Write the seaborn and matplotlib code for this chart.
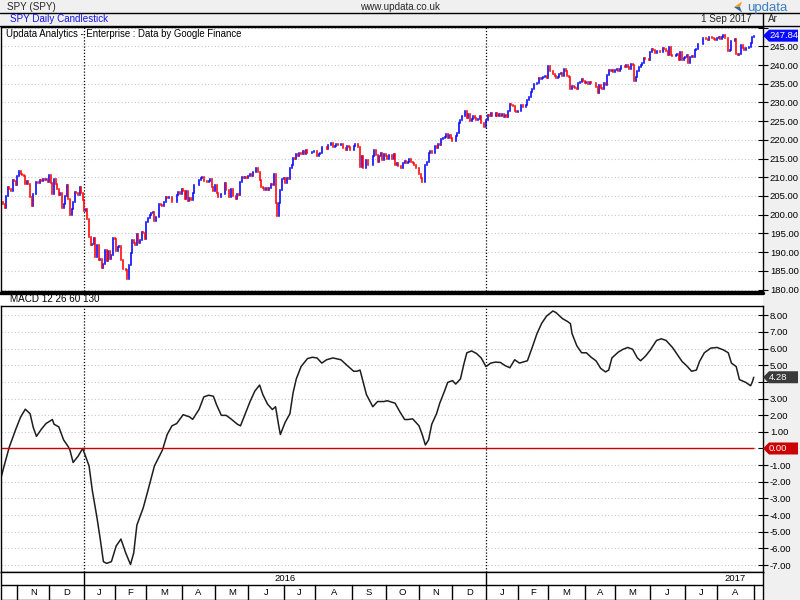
import numpy as np
import pandas as pd
import matplotlib
matplotlib.use("Agg")
import matplotlib.pyplot as plt
import seaborn as sns
from matplotlib.patches import Rectangle, Polygon
from matplotlib.lines import Line2D

sns.set_theme(style="white")
plt.rcParams["font.family"] = ["Liberation Sans", "DejaVu Sans"]

# ---------------- data ----------------
first_date = "2015-10-19"
last_date = "2017-09-01"
holidays = ["2015-11-26", "2015-12-25", "2016-01-01", "2016-01-18", "2016-02-15",
            "2016-03-25", "2016-05-30", "2016-07-04", "2016-09-05", "2016-11-24",
            "2016-12-26", "2017-01-02", "2017-01-16", "2017-02-20", "2017-04-14",
            "2017-05-29", "2017-07-04"]
prev_close = 202.8
closes = [
    # Oct 2015
    203.3, 202.9, 201.7, 204.9, 207.3, 206.9, 206.4, 209.3, 208.9, 207.9,
    # Nov 2015
    210.4, 211.6, 210.8, 210.5, 210.4, 208.3, 208.9, 208.1, 204.8, 202.4,
    205.6, 205.5, 208.7, 208.5, 209.3, 209.1, 209.4, 209.3, 209.6, 208.7,
    # Dec 2015
    210.7, 208.5, 205.6, 209.6, 208.3, 206.9, 205.3, 205.9, 201.9, 202.9, 205.0,
    208.0, 204.2, 200.0, 201.6, 203.5, 206.0, 205.7, 205.2, 207.4, 205.9, 203.9,
    # Jan 2016
    201.0, 201.4, 198.8, 194.0, 191.9, 192.1, 193.7, 188.8, 191.9, 187.8,
    188.1, 185.7, 186.7, 190.5, 187.6, 190.2, 188.1, 189.1, 193.7,
    # Feb 2016
    193.6, 190.2, 191.3, 191.6, 187.9, 185.4, 185.4, 185.3, 182.9, 186.6,
    189.8, 193.2, 192.3, 192.0, 194.8, 192.3, 193.2, 195.5, 195.1, 193.6,
    # Mar 2016
    198.1, 199.0, 199.8, 200.4, 200.6, 198.4, 199.4, 199.4, 202.8, 202.5, 202.2,
    203.3, 204.6, 204.4, 204.7, 204.7, 203.5, 203.4, 203.5, 205.3, 206.0, 205.5,
    # Apr 2016
    206.9, 206.2, 204.2, 206.4, 203.6, 204.5, 203.9, 205.9, 208.0, 208.0, 207.8,
    209.2, 209.9, 210.1, 209.0, 209.0, 208.6, 209.0, 209.4, 207.4, 206.3,
    # May 2016
    207.9, 205.9, 204.6, 204.6, 205.4, 205.5, 208.5, 206.5, 206.5, 204.8, 206.8,
    204.9, 204.9, 204.2, 205.5, 205.2, 208.6, 210.0, 209.8, 210.2, 209.8,
    # Jun 2016
    210.3, 210.9, 210.3, 211.3, 211.4, 212.4, 211.4, 209.2, 207.5, 207.1, 206.5,
    207.2, 206.5, 207.2, 208.3, 207.9, 210.8, 203.2, 199.6, 203.2, 206.7, 209.5,
    # Jul 2016
    209.9, 208.4, 209.7, 209.6, 212.6, 213.4, 215.1, 215.0, 216.2, 215.8,
    216.4, 216.2, 217.1, 216.3, 217.2, 216.6, 216.6, 216.5, 216.8, 217.1,
    # Aug 2016
    216.9, 215.6, 216.2, 216.4, 218.2, 218.1, 218.2, 217.6, 218.6, 218.5, 219.1, 218.0,
    218.4, 218.9, 218.5, 218.5, 218.9, 217.8, 217.7, 217.3, 218.4, 218.0, 217.4,
    # Sep 2016
    217.4, 218.4, 219.0, 219.0, 218.0, 212.7, 215.8, 212.5, 212.4, 214.6, 213.4,
    213.4, 213.4, 215.8, 217.2, 215.9, 214.2, 215.6, 216.6, 214.7, 216.3,
    # Oct 2016
    215.8, 215.0, 215.9, 216.0, 215.0, 216.1, 213.4, 213.7, 213.0, 213.1, 212.4,
    213.7, 214.3, 213.9, 214.0, 214.9, 214.1, 213.7, 213.2, 212.5, 212.6,
    # Nov 2016
    211.0, 209.7, 208.8, 208.6, 213.2, 214.2, 216.4, 216.9, 216.4, 216.6, 218.3,
    217.9, 219.0, 218.5, 220.2, 220.6, 220.7, 221.5, 220.5, 221.2, 220.4,
    # Dec 2016
    219.6, 219.7, 221.0, 221.7, 224.6, 225.2, 226.5, 226.3, 227.8, 225.9, 226.8,
    225.0, 225.5, 226.4, 225.8, 225.4, 225.7, 226.3, 224.4, 224.4, 223.5,
    # Jan 2017
    225.2, 226.6, 226.4, 227.2, 226.5, 226.5, 227.1, 226.5, 227.0, 226.3,
    226.8, 226.0, 226.7, 226.1, 227.6, 229.6, 229.3, 229.0, 227.6, 227.5,
    # Feb 2017
    227.6, 227.8, 229.3, 228.9, 228.9, 229.2, 230.6, 231.5, 232.8, 233.7,
    234.9, 234.8, 235.1, 236.5, 236.3, 236.4, 236.7, 237.1, 236.5,
    # Mar 2017
    239.8, 238.3, 238.4, 237.7, 237.0, 236.6, 236.9, 237.7, 237.8, 237.0, 238.9, 238.5,
    237.0, 236.8, 233.7, 234.3, 234.0, 233.9, 233.6, 235.3, 235.5, 236.3, 235.7,
    # Apr 2017
    235.3, 235.5, 234.8, 235.4, 235.2, 235.3, 235.1, 234.2, 232.5, 234.6,
    233.9, 233.5, 235.3, 234.6, 237.2, 238.6, 238.5, 238.6, 238.1,
    # May 2017
    238.7, 238.8, 238.5, 238.8, 239.7, 239.7, 239.4, 239.9, 239.4, 239.0, 240.3,
    240.1, 235.8, 236.8, 238.3, 239.5, 240.1, 240.6, 241.8, 241.7, 241.5, 241.4,
    # Jun 2017
    243.4, 244.2, 244.0, 243.2, 243.7, 243.8, 243.4, 243.4, 244.6, 244.2, 243.7,
    242.6, 244.7, 242.6, 242.5, 242.4, 242.6, 242.9, 241.3, 243.5, 241.4, 241.8,
    # Jul 2017
    242.2, 242.8, 240.6, 242.1, 242.4, 242.2, 244.0, 244.4, 245.6, 245.6,
    245.7, 247.1, 247.1, 246.9, 246.8, 247.4, 247.4, 247.2, 246.9, 246.8,
    # Aug 2017
    247.3, 247.4, 247.0, 247.4, 247.9, 247.3, 247.3, 243.8, 244.1, 246.5, 246.4, 246.9,
    242.9, 242.7, 243.0, 245.4, 244.6, 244.1, 244.6, 244.6, 244.9, 246.0, 247.5,
    # Sep 2017
    247.84,
]

# MACD line readings (trading-day index, value)
macd_day = [0, 2, 5, 9, 12, 15, 18, 20, 22, 25, 28, 32, 33, 36, 39, 42, 43, 45, 48, 51,
            55, 57, 60, 62, 64, 66, 69, 72, 75, 78, 81, 83, 85, 89, 92, 96, 101, 104, 107,
            110, 114, 118, 120, 124, 127, 130, 133, 135, 138, 141, 144, 148, 150, 153, 156,
            159, 162, 164, 167, 170, 172, 174, 175, 178, 181, 183, 185, 188, 192, 195, 198,
            201, 204, 208, 213, 217, 221, 223, 225, 227, 229, 233, 236, 240, 242, 247, 250,
            253, 255, 258, 262, 264, 266, 268, 270, 273, 275, 278, 280, 283, 285, 288, 290,
            292, 295, 298, 301, 304, 307, 310, 313, 316, 319, 322, 325, 330, 333, 336, 339,
            342, 346, 348, 352, 355, 357, 358, 361, 364, 367, 370, 373, 376, 379, 381, 383,
            387, 390, 393, 396, 399, 401, 404, 407, 411, 414, 417, 421, 424, 427, 430, 433,
            436, 438, 441, 445, 449, 453, 456, 458, 461, 463, 467, 470, 471, 472]
macd_val = [-1.67, -0.94, 0.10, 1.15, 1.88, 2.36, 2.09, 1.26, 0.73, 1.15, 1.50, 1.74, 1.46,
            1.30, 0.52, 0.10, -0.10, -0.84, -0.48, 0.00, -1.05, -2.50, -4.18, -5.44, -6.80,
            -6.90, -6.80, -5.86, -5.44, -6.28, -6.97, -6.28, -4.60, -3.56, -2.50, -1.05,
            -0.10, 0.84, 1.36, 1.50, 2.03, 1.90, 1.75, 2.35, 3.10, 3.20, 3.14, 2.62, 1.99,
            1.99, 1.78, 1.46, 1.36, 2.09, 2.82, 3.45, 3.81, 3.24, 2.66, 2.34, 2.51, 1.36,
            0.84, 1.57, 2.09, 3.35, 4.18, 4.92, 5.40, 5.48, 5.44, 5.13, 5.33, 5.44, 5.33,
            4.98, 4.64, 4.64, 4.71, 3.97, 3.24, 2.51, 2.82, 2.82, 2.87, 2.72, 2.20, 1.74,
            1.74, 1.78, 1.36, 0.84, 0.21, 0.52, 1.46, 2.09, 2.72, 3.45, 3.97, 4.08, 3.87,
            4.18, 5.02, 5.75, 5.86, 5.71, 5.44, 4.92, 5.13, 5.19, 5.17, 4.98, 4.85, 5.33,
            5.13, 5.27, 6.07, 6.90, 7.53, 7.95, 8.26, 8.16, 7.80, 7.64, 7.50, 6.90, 6.17,
            5.75, 5.75, 5.48, 5.27, 4.81, 4.60, 4.71, 5.44, 5.79, 5.96, 6.07, 5.96, 5.44,
            5.27, 5.54, 5.90, 6.49, 6.59, 6.49, 6.07, 5.65, 5.23, 4.96, 4.64, 4.71, 5.23,
            5.75, 6.03, 6.07, 5.92, 5.75, 5.13, 4.92, 4.14, 3.97, 3.77, 3.97, 4.28]

price_ticks = [180, 185, 190, 195, 200, 205, 210, 215, 220, 225, 230, 235, 240, 245, 250]
macd_ticks = [-7, -6, -5, -4, -3, -2, -1, 0, 1, 2, 3, 4, 5, 6, 7, 8]
month_letters = ["J", "F", "M", "A", "M", "J", "J", "A", "S", "O", "N", "D"]

# ---------------- derived ----------------
dates = pd.bdate_range(first_date, last_date)
dates = dates[~dates.isin(pd.to_datetime(holidays))]
assert len(dates) == len(closes), (len(dates), len(closes))
n = len(closes)
idx = np.arange(n)
c = np.array(closes)
o = np.r_[prev_close, c[:-1]]
lo = np.minimum(o, c)
hi = np.maximum(o, c)
up = c >= o

W, H = 800, 600
FS = 6.8
fig = plt.figure(figsize=(8, 6), dpi=100)
fig.patch.set_facecolor("white")


def fx(px):
    return px / W


def fy(py):
    return 1 - py / H


XL = (-0.25, 477.8)
GRAY = "#f0f0f0"

# right gray column
fig.add_artist(Rectangle((fx(763), 0), fx(800) - fx(763), fy(26), transform=fig.transFigure,
                         facecolor=GRAY, edgecolor="none", zorder=-5))

ax_p = fig.add_axes([fx(1), fy(291), fx(763) - fx(1), (291 - 26.5) / H])
ax_m = fig.add_axes([fx(1), fy(571.5), fx(763) - fx(1), (571.5 - 306) / H])
ax_d = fig.add_axes([fx(1), 0.0005, fx(763) - fx(1), 28 / H])

for ax in (ax_p, ax_m, ax_d):
    ax.set_facecolor("white")
    for s in ax.spines.values():
        s.set_color("black")
        s.set_linewidth(1)
    ax.set_xlim(*XL)

# ---- price panel ----
ax_p.vlines(idx[up], lo[up], hi[up], colors="#0000ff", lw=1.15, capstyle="projecting")
ax_p.vlines(idx[~up], lo[~up], hi[~up], colors="#ff0000", lw=1.15, capstyle="projecting")
ax_p.set_ylim(179.6, 250.29)
ax_p.set_yticks(price_ticks)
# the top label sits under the header strip and the last-price flag
ax_p.set_yticklabels(["" if abs(v - closes[-1]) < 2.5 else f"{v:.2f}" for v in price_ticks])

# ---- MACD panel ----
sns.lineplot(x=macd_day, y=macd_val, ax=ax_m, color="#1e1e1e", lw=1.1,
             estimator=None, sort=False)
ax_m.hlines(0, 0, n - 1, colors="#cc0000", lw=1)
ax_m.set_ylim(-7.39, 8.56)
ax_m.set_yticks(macd_ticks)
# labels hidden behind the value flags
ax_m.set_yticklabels(["" if (abs(v - macd_val[-1]) < 0.5 or v == 0) else f"{v:.2f}"
                      for v in macd_ticks])

for ax in (ax_p, ax_m):
    ax.set_xlabel("")
    ax.set_ylabel("")
    ax.set_xticks([])
    ax.yaxis.tick_right()
    ax.tick_params(axis="y", direction="inout", length=7, width=0.8, labelsize=FS,
                   pad=1.5, colors="black", right=True, left=False)
    ax.yaxis.grid(True, linestyle=(0, (1, 2)), color="#c8c8c8", lw=0.8)
    ax.xaxis.grid(False)
    ax.set_axisbelow(True)

# year start dotted verticals
year_starts = [i for i in range(1, n) if dates[i].year != dates[i - 1].year]
for ax in (ax_p, ax_m):
    for ys in year_starts:
        ax.axvline(ys, color="black", lw=0.9, linestyle=(0, (1, 1.5)), zorder=1)

ax_p.text(0.006, 0.99, "Updata Analytics - Enterprise : Data by Google Finance",
          transform=ax_p.transAxes, ha="left", va="top", fontsize=FS + 0.1, color="black")

# ---- date axis ----
ax_d.set_ylim(0, 28)
ax_d.set_xticks([])
ax_d.set_yticks([])
ax_d.axhline(14.5, color="black", lw=1)
month_starts = [i for i in range(1, n) if dates[i].month != dates[i - 1].month]
for ms in month_starts:
    ax_d.plot([ms, ms], [0, 14.5], color="black", lw=1)
for a, b in zip(month_starts[:-1], month_starts[1:]):
    ax_d.text((a + b) / 2, 7, month_letters[dates[a].month - 1], ha="center", va="center",
              fontsize=FS, color="black")
for ys in year_starts:
    ax_d.plot([ys, ys], [14.5, 28], color="black", lw=1)
ax_d.text((year_starts[0] + year_starts[1]) / 2, 21.2, str(dates[year_starts[0]].year),
          ha="center", va="center", fontsize=FS, color="black")
ax_d.text(n - 13, 21.2, str(dates[year_starts[1]].year), ha="center", va="center",
          fontsize=FS, color="black")

# ---- separators / strips ----
fig.add_artist(Line2D([fx(0), fx(763)], [fy(292.5), fy(292.5)], transform=fig.transFigure,
                      color="black", lw=2.4, zorder=6))
fig.text(fx(10), fy(299.5), "MACD 12 26 60 130", ha="left", va="center", fontsize=FS + 0.3,
         color="black")

# ---- header ----
fig.add_artist(Rectangle((0, fy(26)), 1, 26 / H, transform=fig.transFigure,
                         facecolor=GRAY, edgecolor="none", zorder=5))
for yy in (13, 26):
    fig.add_artist(Line2D([0, 1], [fy(yy), fy(yy)], transform=fig.transFigure,
                          color="black", lw=1, zorder=6))
fig.add_artist(Line2D([fx(763), fx(763)], [fy(13), fy(26)], transform=fig.transFigure,
                      color="black", lw=1, zorder=6))
fig.text(fx(7), fy(6.5), "SPY (SPY)", ha="left", va="center", fontsize=FS + 0.3, zorder=7)
fig.text(fx(400), fy(6.5), "www.updata.co.uk", ha="center", va="center", fontsize=FS + 0.3,
         zorder=7)
fig.text(fx(10), fy(19.5), "SPY Daily Candlestick", ha="left", va="center", fontsize=FS + 0.3,
         color="#1414e6", zorder=7)
fig.text(fx(752), fy(19.5), dates[-1].strftime("%-d %b %Y"), ha="right", va="center",
         fontsize=FS + 0.3, zorder=7)
fig.text(fx(768), fy(19.5), "Ar", ha="left", va="center", fontsize=FS + 0.3, zorder=7)
# logo
fig.add_artist(Polygon([[fx(734), fy(7)], [fx(742), fy(1.5)], [fx(740), fy(7)]],
                       closed=True, transform=fig.transFigure, facecolor="#f39c1f",
                       edgecolor="none", zorder=7))
fig.add_artist(Polygon([[fx(734), fy(7)], [fx(740), fy(7)], [fx(742), fy(12.5)]],
                       closed=True, transform=fig.transFigure, facecolor="#2a6fb5",
                       edgecolor="none", zorder=7))
fig.text(fx(747), fy(7.5), "updata", ha="left", va="center", fontsize=9.5,
         color="#3a80c3", zorder=7)


# ---- value flags ----
def flag(ax, val, fc, txt):
    disp = ax.transData.transform((0, val))[1]
    yc = disp / H
    h = 6 / H
    pts = [[fx(763), yc], [fx(769), yc + h], [fx(798), yc + h], [fx(798), yc - h],
           [fx(769), yc - h]]
    fig.add_artist(Polygon(pts, closed=True, transform=fig.transFigure, facecolor=fc,
                           edgecolor="none", zorder=8))
    fig.text(fx(769), yc, txt, ha="left", va="center", fontsize=FS, color="white",
             zorder=9)


flag(ax_p, closes[-1], "#0a0aff", f"{closes[-1]:.2f}")
flag(ax_m, macd_val[-1], "#3a3a3a", f"{macd_val[-1]:.2f}")
flag(ax_m, 0.0, "#cc0000", "0.00")

fig.savefig("out.png", dpi=100, facecolor=fig.get_facecolor())
